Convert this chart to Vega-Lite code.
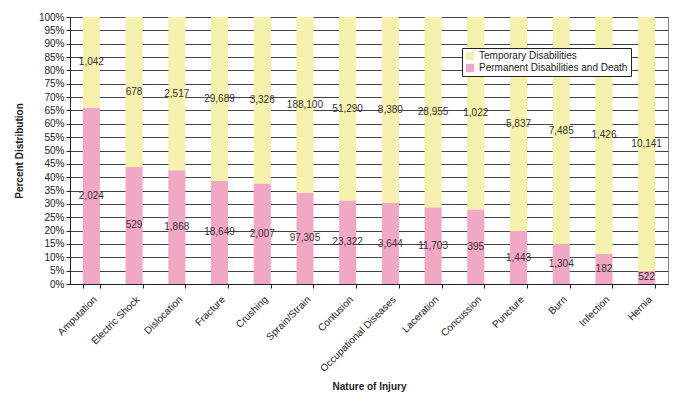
{
  "$schema": "https://vega.github.io/schema/vega-lite/v6.json",
  "width": 598,
  "height": 267,
  "autosize": "none",
  "padding": {"left": 70, "top": 17, "right": 10, "bottom": 118},
  "background": "white",
  "config": {
    "font": "Liberation Sans",
    "view": {"stroke": "#888888", "strokeWidth": 1},
    "axis": {"labelFont": "Liberation Sans", "titleFont": "Liberation Sans", "labelColor": "#222", "titleColor": "#222", "labelFontSize": 10, "titleFontSize": 10, "titleFontWeight": "bold"}
  },
  "data": {
    "values": [
      {"injury": "Amputation", "type": "Permanent Disabilities and Death", "count": 2024},
      {"injury": "Amputation", "type": "Temporary Disabilities", "count": 1042},
      {"injury": "Electric Shock", "type": "Permanent Disabilities and Death", "count": 529},
      {"injury": "Electric Shock", "type": "Temporary Disabilities", "count": 678},
      {"injury": "Dislocation", "type": "Permanent Disabilities and Death", "count": 1868},
      {"injury": "Dislocation", "type": "Temporary Disabilities", "count": 2517},
      {"injury": "Fracture", "type": "Permanent Disabilities and Death", "count": 18649},
      {"injury": "Fracture", "type": "Temporary Disabilities", "count": 29689},
      {"injury": "Crushing", "type": "Permanent Disabilities and Death", "count": 2007},
      {"injury": "Crushing", "type": "Temporary Disabilities", "count": 3326},
      {"injury": "Sprain/Strain", "type": "Permanent Disabilities and Death", "count": 97305},
      {"injury": "Sprain/Strain", "type": "Temporary Disabilities", "count": 188100},
      {"injury": "Contusion", "type": "Permanent Disabilities and Death", "count": 23322},
      {"injury": "Contusion", "type": "Temporary Disabilities", "count": 51290},
      {"injury": "Occupational Diseases", "type": "Permanent Disabilities and Death", "count": 3644},
      {"injury": "Occupational Diseases", "type": "Temporary Disabilities", "count": 8380},
      {"injury": "Laceration", "type": "Permanent Disabilities and Death", "count": 11703},
      {"injury": "Laceration", "type": "Temporary Disabilities", "count": 28955},
      {"injury": "Concussion", "type": "Permanent Disabilities and Death", "count": 395},
      {"injury": "Concussion", "type": "Temporary Disabilities", "count": 1022},
      {"injury": "Puncture", "type": "Permanent Disabilities and Death", "count": 1443},
      {"injury": "Puncture", "type": "Temporary Disabilities", "count": 5837},
      {"injury": "Burn", "type": "Permanent Disabilities and Death", "count": 1304},
      {"injury": "Burn", "type": "Temporary Disabilities", "count": 7485},
      {"injury": "Infection", "type": "Permanent Disabilities and Death", "count": 182},
      {"injury": "Infection", "type": "Temporary Disabilities", "count": 1426},
      {"injury": "Hernia", "type": "Permanent Disabilities and Death", "count": 522},
      {"injury": "Hernia", "type": "Temporary Disabilities", "count": 10141}
    ]
  },
  "encoding": {
    "x": {
      "field": "injury", "type": "nominal", "sort": null,
      "scale": {"paddingInner": 0.6, "paddingOuter": 0.3},
      "axis": {"title": "Nature of Injury", "labelAngle": -45, "labelAlign": "right", "labelBaseline": "top", "tickBand": "extent", "tickColor": "#222", "domainColor": "#222", "tickSize": 4, "labelPadding": 6, "titlePadding": 8}
    },
    "y": {
      "field": "count", "type": "quantitative", "stack": "normalize",
      "scale": {"domain": [0, 1], "nice": false},
      "axis": {"title": "Percent Distribution", "format": ".0%", "values": [0,0.05,0.1,0.15,0.2,0.25,0.3,0.35,0.4,0.45,0.5,0.55,0.6,0.65,0.7,0.75,0.8,0.85,0.9,0.95,1], "gridColor": "#444", "gridOpacity": 1, "domainColor": "#222", "tickColor": "#222", "tickSize": 4, "labelPadding": 2, "titlePadding": 14}
    }
  },
  "layer": [
    {
      "mark": {"type": "bar"},
      "encoding": {
        "color": {
          "field": "type", "type": "nominal",
          "scale": {"domain": ["Temporary Disabilities", "Permanent Disabilities and Death"], "range": ["#F6F1AD", "#F1A8C5"]},
          "legend": {"title": null, "orient": "none", "legendX": 392, "legendY": 31, "symbolType": "square", "symbolSize": 70, "symbolStrokeWidth": 0, "labelFontSize": 10, "labelFont": "Liberation Sans", "labelColor": "#222", "strokeColor": "#222", "fillColor": "white", "padding": 3, "rowPadding": 2, "symbolOffset": 0}
        },
        "order": {"field": "type", "type": "nominal", "sort": "ascending"}
      }
    },
    {
      "mark": {"type": "text", "fontSize": 10, "font": "Liberation Sans", "color": "#333"},
      "encoding": {
        "y": {"field": "count", "type": "quantitative", "stack": "normalize", "bandPosition": 0.5},
        "detail": {"field": "type", "type": "nominal"},
        "order": {"field": "type", "type": "nominal", "sort": "ascending"},
        "text": {"field": "count", "type": "quantitative", "format": ","}
      }
    }
  ]
}
